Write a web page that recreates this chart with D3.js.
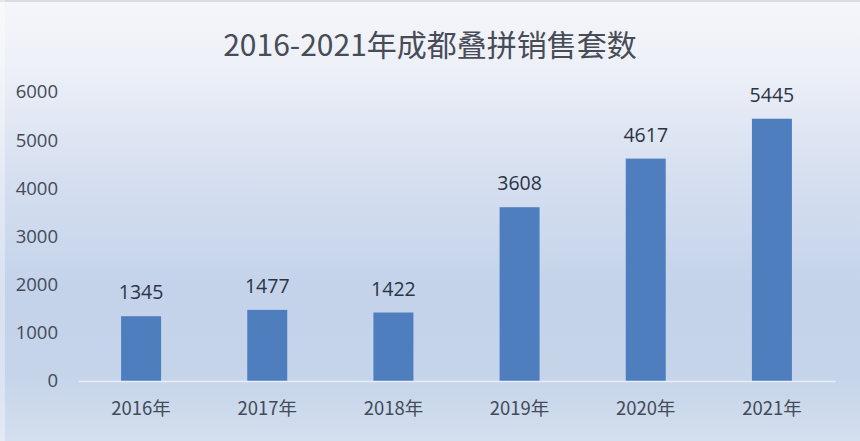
<!DOCTYPE html>
<html><head><meta charset="utf-8">
<script src="https://cdn.jsdelivr.net/npm/d3@7"></script>
<style>html,body{margin:0;padding:0;background:#fff;}svg{display:block;}</style>
</head><body>
<svg id="chart" width="860" height="441"></svg>
<script>
const titleText = "2016-2021年成都叠拼销售套数";
const categories = ["2016年","2017年","2018年","2019年","2020年","2021年"];
const values = [1345, 1477, 1422, 3608, 4617, 5445];
const yTicks = [0, 1000, 2000, 3000, 4000, 5000, 6000];

const W = 860, H = 441;
const svg = d3.select("#chart");
const defs = svg.append("defs");
const g = defs.append("linearGradient").attr("id","bg").attr("x1",0).attr("y1",0).attr("x2",0).attr("y2",1);
[[0,"#f5f6fb"],[0.15,"#edf0f7"],[0.4,"#d6dff0"],[0.65,"#c4d3ea"],[0.85,"#c6d4ea"],[1,"#d3dfee"]]
  .forEach(([o,c])=>g.append("stop").attr("offset",o).attr("stop-color",c));
svg.append("rect").attr("width",W).attr("height",H).attr("fill","url(#bg)");
svg.append("rect").attr("x",0).attr("y",0).attr("width",W).attr("height",2).attr("fill","#d9dbe0");
svg.append("rect").attr("x",0).attr("y",0).attr("width",5).attr("height",H).attr("fill","#ffffff").attr("opacity",0.35);

const x = d3.scaleBand().domain(categories).range([78, 835]).paddingInner(0.683).paddingOuter(0.3415);
const y = d3.scaleLinear().domain([0, 6000]).range([381, 92]);

svg.append("text").attr("x", 430).attr("y", 56).attr("text-anchor","middle")
  .attr("font-family","'Noto Sans CJK SC', sans-serif").attr("font-size",30).attr("fill","#474c57")
  .text(titleText);

// y axis
const ya = svg.append("g").attr("transform","translate(58,0)")
  .call(d3.axisLeft(y).tickValues(yTicks).tickSize(0).tickPadding(0).tickFormat(d3.format("d")));
ya.select(".domain").remove();
ya.selectAll("text").attr("font-family","'Open Sans', 'Noto Sans', sans-serif").attr("font-size",18.5).attr("fill","#434a58");

// bars
svg.append("g").selectAll("rect").data(values).join("rect")
  .attr("x",(d,i)=>x(categories[i])).attr("width",x.bandwidth())
  .attr("y",d=>y(d)).attr("height",d=>y(0)-y(d)).attr("fill","#4f7ebe");

// x axis
const xa = svg.append("g").attr("transform","translate(0,381)")
  .call(d3.axisBottom(x).tickSize(0).tickPadding(21));
xa.select(".domain").attr("stroke","#e8eef8").attr("stroke-width",1.5);
xa.selectAll("text").attr("font-family","'Noto Sans CJK SC', sans-serif").attr("font-size",18.5).attr("fill","#434a58");

// value labels
svg.append("g").selectAll("text").data(values).join("text")
  .attr("x",(d,i)=>x(categories[i])+x.bandwidth()/2).attr("y",d=>y(d)-17)
  .attr("text-anchor","middle").attr("font-family","'Open Sans', 'Noto Sans', sans-serif")
  .attr("font-size",19.5).attr("fill","#2b3444").text(d=>d);
</script>
</body></html>
